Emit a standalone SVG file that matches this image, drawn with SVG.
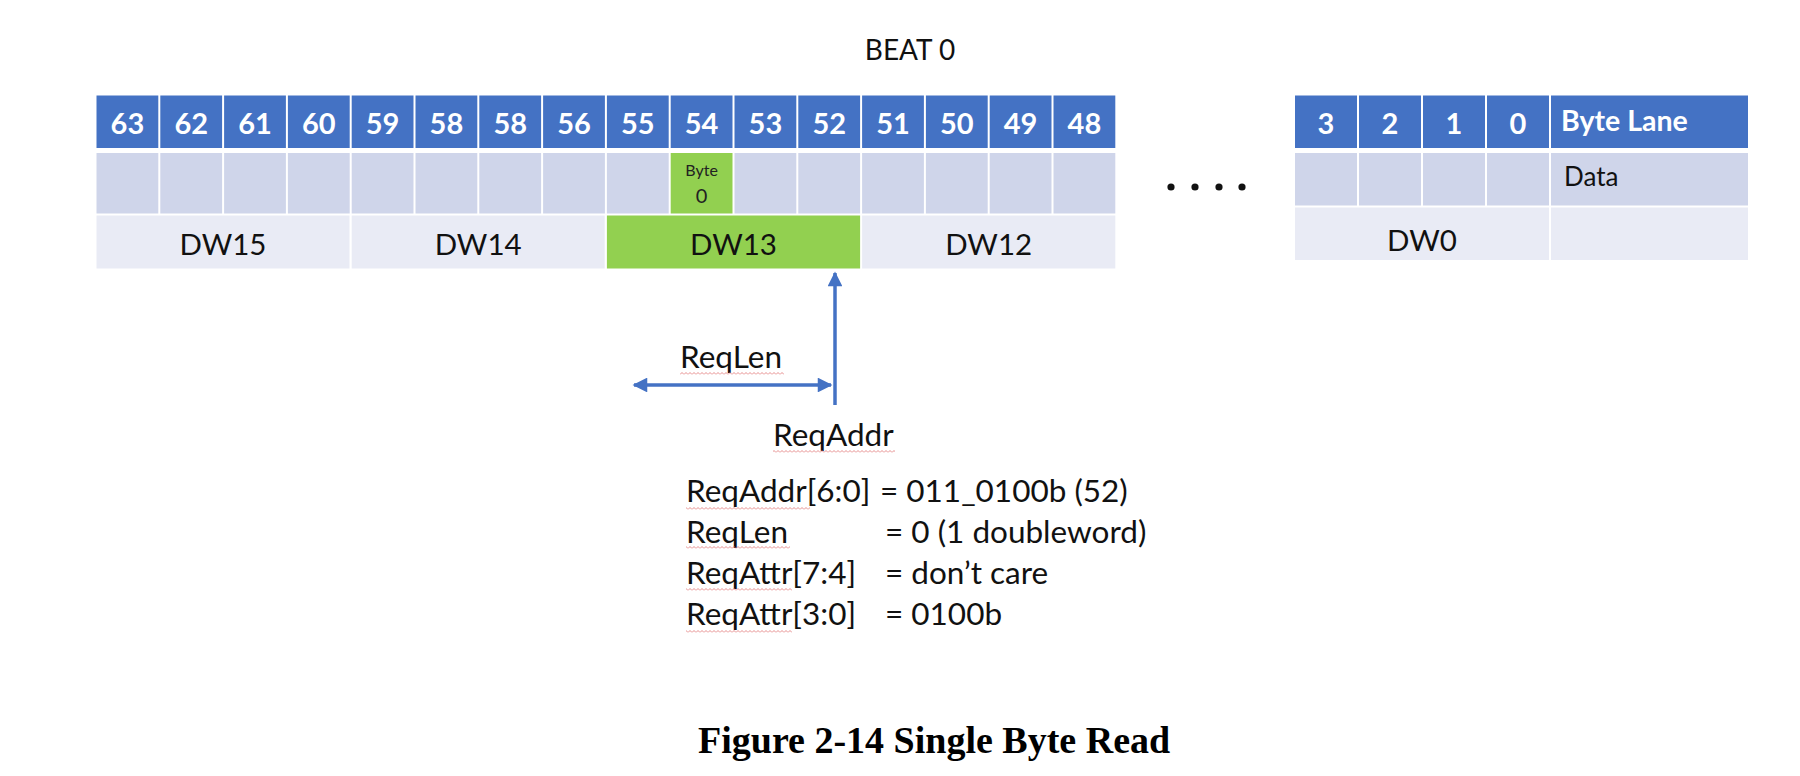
<svg xmlns="http://www.w3.org/2000/svg" width="1800" height="776" viewBox="0 0 1800 776">
<style>
.hdr{fill:#4472C4}
.dat{fill:#CFD5EA}
.dw{fill:#E9EBF5}
.grn{fill:#92D050}
.num{font-family:Lato,"Open Sans",sans-serif;font-weight:bold;font-size:29px;fill:#fff;text-anchor:middle}
.numl{font-family:Lato,"Open Sans",sans-serif;font-weight:bold;font-size:28.5px;fill:#fff;text-anchor:start}
.dwt{font-family:Lato,"Open Sans",sans-serif;font-size:29.5px;fill:#111;text-anchor:middle}
.txt{font-family:Lato,"Open Sans",sans-serif;font-size:31.5px;fill:#111}
.lbl{font-family:Lato,"Open Sans",sans-serif;font-size:31.5px;fill:#111}
.arr{stroke:#4472C4;stroke-width:3.5;fill:none}
</style>
<defs>
<marker id="ah" viewBox="0 0 10 10" refX="9" refY="5" markerWidth="4.5" markerHeight="4.2" orient="auto-start-reverse" markerUnits="strokeWidth">
<path d="M0,0 L10,5 L0,10 Z" fill="#4472C4"/>
</marker>
<pattern id="squig" width="4" height="3" patternUnits="userSpaceOnUse">
<path d="M0,2.5 L2,0.5 L4,2.5" fill="none" stroke="#e07070" stroke-width="0.8"/>
</pattern>
</defs>
<rect width="1800" height="776" fill="#fff"/>

<g id="beat-title">
<text x="910" y="60" font-family="Lato,'Open Sans',sans-serif" font-size="28" fill="#111" text-anchor="middle">BEAT 0</text>
</g>

<g id="left-header">
<rect class="hdr" x="96.5" y="95.5" width="61.8" height="52.5"/>
<rect class="hdr" x="160.3" y="95.5" width="61.8" height="52.5"/>
<rect class="hdr" x="224.1" y="95.5" width="61.8" height="52.5"/>
<rect class="hdr" x="287.9" y="95.5" width="61.8" height="52.5"/>
<rect class="hdr" x="351.7" y="95.5" width="61.8" height="52.5"/>
<rect class="hdr" x="415.5" y="95.5" width="61.8" height="52.5"/>
<rect class="hdr" x="479.3" y="95.5" width="61.8" height="52.5"/>
<rect class="hdr" x="543.1" y="95.5" width="61.8" height="52.5"/>
<rect class="hdr" x="606.9" y="95.5" width="61.8" height="52.5"/>
<rect class="hdr" x="670.7" y="95.5" width="61.8" height="52.5"/>
<rect class="hdr" x="734.5" y="95.5" width="61.8" height="52.5"/>
<rect class="hdr" x="798.3" y="95.5" width="61.8" height="52.5"/>
<rect class="hdr" x="862.1" y="95.5" width="61.8" height="52.5"/>
<rect class="hdr" x="925.9" y="95.5" width="61.8" height="52.5"/>
<rect class="hdr" x="989.7" y="95.5" width="61.8" height="52.5"/>
<rect class="hdr" x="1053.5" y="95.5" width="61.8" height="52.5"/>
<text class="num" x="127.4" y="134">63</text>
<text class="num" x="191.2" y="134">62</text>
<text class="num" x="255" y="134">61</text>
<text class="num" x="318.8" y="134">60</text>
<text class="num" x="382.6" y="134">59</text>
<text class="num" x="446.4" y="134">58</text>
<text class="num" x="510.2" y="134">58</text>
<text class="num" x="574" y="134">56</text>
<text class="num" x="637.8" y="134">55</text>
<text class="num" x="701.6" y="134">54</text>
<text class="num" x="765.4" y="134">53</text>
<text class="num" x="829.2" y="134">52</text>
<text class="num" x="893" y="134">51</text>
<text class="num" x="956.8" y="134">50</text>
<text class="num" x="1020.6" y="134">49</text>
<text class="num" x="1084.4" y="134">48</text>
</g>

<g id="left-data">
<rect class="dat" x="96.5" y="153" width="61.8" height="60.5"/>
<rect class="dat" x="160.3" y="153" width="61.8" height="60.5"/>
<rect class="dat" x="224.1" y="153" width="61.8" height="60.5"/>
<rect class="dat" x="287.9" y="153" width="61.8" height="60.5"/>
<rect class="dat" x="351.7" y="153" width="61.8" height="60.5"/>
<rect class="dat" x="415.5" y="153" width="61.8" height="60.5"/>
<rect class="dat" x="479.3" y="153" width="61.8" height="60.5"/>
<rect class="dat" x="543.1" y="153" width="61.8" height="60.5"/>
<rect class="dat" x="606.9" y="153" width="61.8" height="60.5"/>
<rect class="dat" x="734.5" y="153" width="61.8" height="60.5"/>
<rect class="dat" x="798.3" y="153" width="61.8" height="60.5"/>
<rect class="dat" x="862.1" y="153" width="61.8" height="60.5"/>
<rect class="dat" x="925.9" y="153" width="61.8" height="60.5"/>
<rect class="dat" x="989.7" y="153" width="61.8" height="60.5"/>
<rect class="dat" x="1053.5" y="153" width="61.8" height="60.5"/>
</g>

<g id="byte0">
<rect class="grn" x="670.7" y="153" width="61.8" height="60.5"/>
<text x="701.6" y="176" font-family="Lato,'Open Sans',sans-serif" font-size="16" fill="#222" text-anchor="middle">Byte</text>
<text x="701.6" y="203" font-family="Lato,'Open Sans',sans-serif" font-size="20" fill="#222" text-anchor="middle">0</text>
</g>

<g id="dw15"><rect class="dw" x="96.5" y="215.5" width="253" height="53"/><text class="dwt" x="223" y="255">DW15</text></g>
<g id="dw14"><rect class="dw" x="351.7" y="215.5" width="253" height="53"/><text class="dwt" x="478.2" y="255">DW14</text></g>
<g id="dw13"><rect class="grn" x="606.9" y="215.5" width="253.2" height="53"/><text class="dwt" x="733.5" y="255">DW13</text></g>
<g id="dw12"><rect class="dw" x="862.1" y="215.5" width="253.2" height="53"/><text class="dwt" x="988.7" y="255">DW12</text></g>

<g id="ellipsis" fill="#111">
<circle cx="1171" cy="187" r="3.6"/>
<circle cx="1195" cy="187" r="3.6"/>
<circle cx="1219" cy="187" r="3.6"/>
<circle cx="1242" cy="187" r="3.6"/>
</g>

<g id="right-table">
<rect class="hdr" x="1295" y="95.5" width="62" height="52.5"/>
<rect class="hdr" x="1359" y="95.5" width="62" height="52.5"/>
<rect class="hdr" x="1423" y="95.5" width="62" height="52.5"/>
<rect class="hdr" x="1487" y="95.5" width="62" height="52.5"/>
<rect class="hdr" x="1551" y="95.5" width="197" height="52.5"/>
<text class="num" x="1326" y="134">3</text>
<text class="num" x="1390" y="134">2</text>
<text class="num" x="1454" y="134">1</text>
<text class="num" x="1518" y="134">0</text>
<text class="numl" x="1561" y="131">Byte Lane</text>
<rect class="dat" x="1295" y="153" width="62" height="52.5"/>
<rect class="dat" x="1359" y="153" width="62" height="52.5"/>
<rect class="dat" x="1423" y="153" width="62" height="52.5"/>
<rect class="dat" x="1487" y="153" width="62" height="52.5"/>
<rect class="dat" x="1551" y="153" width="197" height="52.5"/>
<text x="1564" y="186" font-family="Lato,'Open Sans',sans-serif" font-size="26" fill="#111">Data</text>
<rect class="dw" x="1295" y="207.5" width="254" height="52.5"/>
<rect class="dw" x="1551" y="207.5" width="197" height="52.5"/>
<text class="dwt" x="1422" y="251">DW0</text>
</g>

<g id="connectors">
<line class="arr" x1="835" y1="405" x2="835" y2="273" marker-end="url(#ah)"/>
<line class="arr" x1="634" y1="385" x2="831" y2="385" marker-start="url(#ah)" marker-end="url(#ah)"/>
</g>

<g id="reqlen-label">
<text class="lbl" x="680" y="368">ReqLen</text>
<rect x="680" y="372" width="104" height="3" fill="url(#squig)"/>
</g>
<g id="reqaddr-label">
<text class="lbl" x="773" y="446">ReqAddr</text>
<rect x="773" y="450" width="122" height="3" fill="url(#squig)"/>
</g>

<g id="field-values" class="txt">
<text x="686" y="502">ReqAddr[6:0]</text>
<text x="880" y="502">= 011_0100b (52)</text>
<text x="686" y="543">ReqLen</text>
<text x="885" y="543">= 0 (1 doubleword)</text>
<text x="686" y="584">ReqAttr[7:4]</text>
<text x="885" y="584">= don’t care</text>
<text x="686" y="625">ReqAttr[3:0]</text>
<text x="885" y="625">= 0100b</text>
<rect x="686" y="507" width="124" height="3" fill="url(#squig)"/>
<rect x="686" y="546" width="104" height="3" fill="url(#squig)"/>
<rect x="686" y="588" width="106" height="3" fill="url(#squig)"/>
<rect x="686" y="630" width="106" height="3" fill="url(#squig)"/>
</g>

<g id="caption">
<text x="698" y="753" font-family="'Liberation Serif','Times New Roman',serif" font-weight="bold" font-size="38" fill="#000">Figure 2-14 Single Byte Read</text>
</g>
</svg>
